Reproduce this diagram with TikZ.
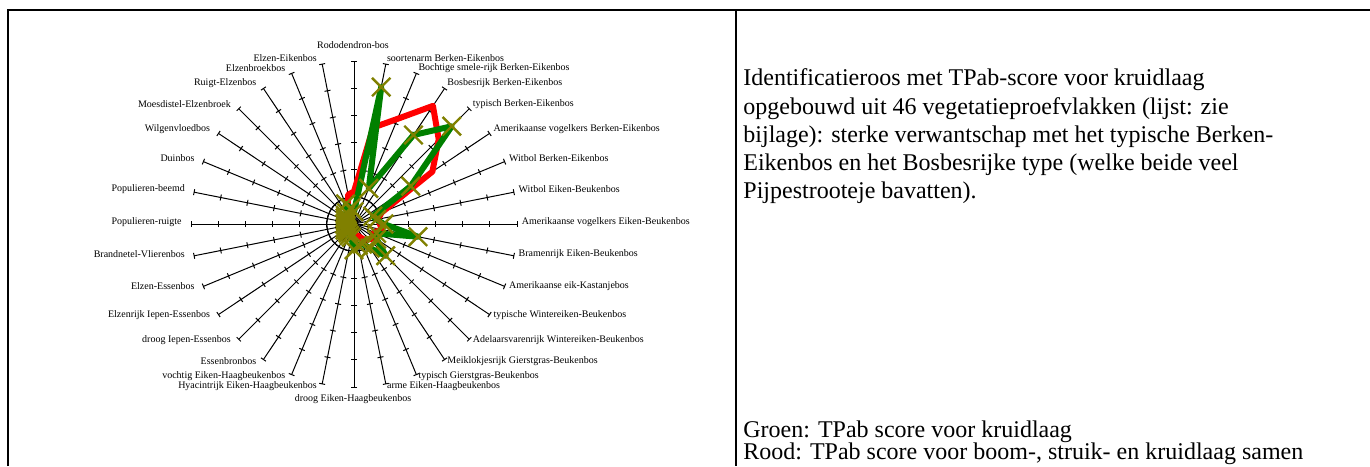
\documentclass[tikz,border=0pt]{standalone}
\usepackage{fontspec}
\setmainfont{Liberation Serif}
\usetikzlibrary{shapes.misc}
\definecolor{grn}{RGB}{0,128,0}
\definecolor{olv}{RGB}{128,128,0}
\definecolor{rd}{RGB}{255,0,0}
\begin{document}
\begin{tikzpicture}[x=0.5pt,y=-0.5pt,
  frame/.style={line width=1pt,black},
  axisline/.style={line width=0.5pt,black},
  axlabel/.style={font=\fontsize{5}{6}\selectfont,inner sep=0pt},
  bodytext/.style={font=\fontsize{12}{14}\selectfont,inner sep=0pt,anchor=base west},
  redline/.style={line width=3pt,draw=rd,line join=round},
  greenline/.style={line width=3pt,draw=grn,line join=round},
  xmark/.style={cross out,draw=olv,line width=1.2pt,inner sep=0pt,minimum size=8pt}]
\useasboundingbox (0,0) rectangle (1370,466);
% table frame
\draw[frame] (8,466) -- (8,10) -- (1370,10);
\draw[frame] (736,10) -- (736,466);
% radar chart geometry
\def\cx{354}\def\cy{224}\def\R{163}\def\u{27.1667}
% axes with tick marks
\foreach \i in {1,...,32}{
  \pgfmathsetmacro\a{90-(\i-1)*11.25}
  \begin{scope}[shift={(\cx,\cy)},rotate=\a]
    \draw[axisline] (0,0) -- (\R,0);
    \foreach \k in {1,...,6}{\draw[axisline] (\k*\u,-3) -- (\k*\u,3);}
  \end{scope}
}
\draw[axisline] (\cx,\cy) circle[radius=\u];
% axis labels
\node[axlabel] (l1) at (353,45) {Rododendron-bos};
\node[axlabel] (l17) at (353,399) {droog Eiken-Haagbeukenbos};
\node[axlabel,anchor=east] (l25) at (182,222) {Populieren-ruigte};
\foreach \i/\txt in {2/soortenarm Berken-Eikenbos,
  3/Bochtige smele-rijk Berken-Eikenbos,
  4/Bosbesrijk Berken-Eikenbos,
  5/typisch Berken-Eikenbos,
  6/Amerikaanse vogelkers Berken-Eikenbos,
  7/Witbol Berken-Eikenbos,
  8/Witbol Eiken-Beukenbos,
  9/Amerikaanse vogelkers Eiken-Beukenbos,
  10/Bramenrijk Eiken-Beukenbos,
  11/Amerikaanse eik-Kastanjebos,
  12/typische Wintereiken-Beukenbos,
  13/Adelaarsvarenrijk Wintereiken-Beukenbos,
  14/Meiklokjesrijk Gierstgras-Beukenbos,
  15/typisch Gierstgras-Beukenbos,
  16/arme Eiken-Haagbeukenbos}{
  \pgfmathsetmacro\a{90-(\i-1)*11.25}
  \pgfmathsetmacro\lx{\cx+(\R+4.5)*cos(\a)}
  \pgfmathsetmacro\ly{\cy-\R*sin(\a)-2-4*sin(\a)}
  \node[axlabel,anchor=west] (l\i) at (\lx,\ly) {\txt};
}
\foreach \i/\txt in {18/Hyacintrijk Eiken-Haagbeukenbos,
  19/vochtig Eiken-Haagbeukenbos,
  20/Essenbronbos,
  21/droog Iepen-Essenbos,
  22/Elzenrijk Iepen-Essenbos,
  23/Elzen-Essenbos,
  24/Brandnetel-Vlierenbos,
  26/Populieren-beemd,
  27/Duinbos,
  28/Wilgenvloedbos,
  29/Moesdistel-Elzenbroek,
  30/Ruigt-Elzenbos,
  31/Elzenbroekbos,
  32/Elzen-Eikenbos}{
  \pgfmathsetmacro\a{90-(\i-1)*11.25}
  \pgfmathsetmacro\lx{\cx+\R*cos(\a)-4-5*abs(cos(\a))}
  \pgfmathsetmacro\ly{\cy-\R*sin(\a)-2-4*sin(\a)}
  \node[axlabel,anchor=east] (l\i) at (\lx,\ly) {\txt};
}
% data points: tree, shrub and herb layer together
\foreach \i/\v in {1/1.2,2/3.62,3/4.19,4/5.23,5/4.41,6/3.47,7/1.1,8/0.9,
  9/0.95,10/1.05,11/0.8,12/0.9,13/0.8,14/0.7,15/0.5,16/0.4,17/0.4,18/0.3,
  19/0.3,20/0.3,21/0.3,22/0.3,23/0.3,24/0.3,25/0.3,26/0.3,27/0.3,28/0.3,
  29/0.3,30/0.35,31/0.6,32/1.1}{
  \pgfmathsetmacro\a{90-(\i-1)*11.25}
  \coordinate (r\i) at ({\cx+\v*\u*cos(\a)},{\cy-\v*\u*sin(\a)});
}
% data points: herb layer
\foreach \i/\v in {1/0.45,2/5.14,3/1.42,4/3.94,5/5.09,6/2.51,7/0.75,8/0.85,
  9/1.1,10/2.40,11/0.9,12/1.0,13/1.65,14/1.07,15/0.8,16/0.8,17/0.95,18/0.5,
  19/0.45,20/0.4,21/0.35,22/0.4,23/0.35,24/0.3,25/0.35,26/0.3,27/0.35,
  28/0.4,29/0.45,30/0.5,31/0.8,32/0.6}{
  \pgfmathsetmacro\a{90-(\i-1)*11.25}
  \coordinate (g\i) at ({\cx+\v*\u*cos(\a)},{\cy-\v*\u*sin(\a)});
}
\draw[redline] (r1) \foreach \i in {2,...,32}{ -- (r\i)} -- cycle;
\draw[greenline] (g1) \foreach \i in {2,...,32}{ -- (g\i)} -- cycle;
\foreach \i in {1,...,32}{\node[xmark] (m\i) at (g\i) {};}
% description
\node[bodytext] (t1) at (743,85) {Identificatieroos met TPab-score voor kruidlaag};
\node[bodytext] (t2) at (743,114) {opgebouwd uit 46 vegetatieproefvlakken (lijst: zie};
\node[bodytext] (t3) at (743,142) {bijlage): sterke verwantschap met het typische Berken-};
\node[bodytext] (t4) at (743,170) {Eikenbos en het Bosbesrijke type (welke beide veel};
\node[bodytext] (t5) at (743,198) {Pijpestrooteje bavatten).};
\node[bodytext] (t6) at (743,437) {Groen: TPab score voor kruidlaag};
\node[bodytext] (t7) at (743,459) {Rood: TPab score voor boom-, struik- en kruidlaag samen};
\end{tikzpicture}
\end{document}
